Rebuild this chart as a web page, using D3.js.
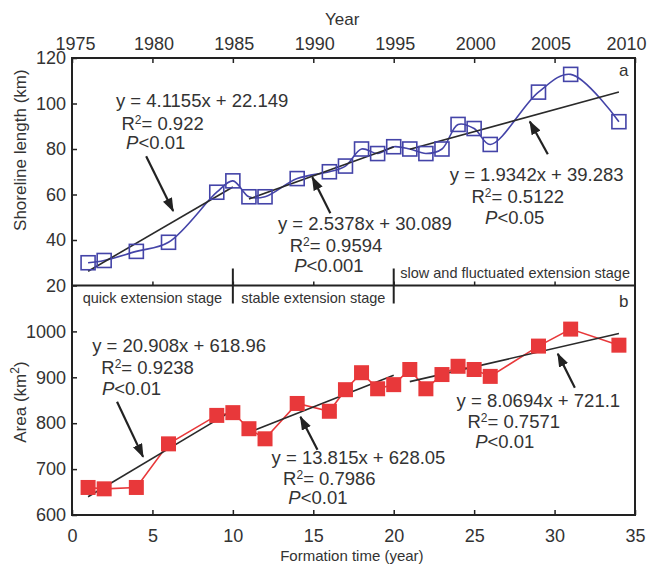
<!DOCTYPE html>
<html>
<head>
<meta charset="utf-8">
<script src="https://cdn.jsdelivr.net/npm/d3@7"></script>
<style>
  body { margin: 0; background: #fff; }
  svg { font-family: "Liberation Sans", Arial, sans-serif; }
</style>
</head>
<body>
<div id="chart"></div>
<script>
// formation time (years since 1975)
const time = [1, 2, 4, 6, 9, 10, 11, 12, 14, 16, 17, 18, 19, 20, 21, 22, 23, 24, 25, 26, 29, 31, 34];
const shoreline = [30, 31, 35, 39, 61, 66, 59, 59, 67, 70, 72.5, 80, 78, 81, 80, 78, 80, 90.8, 89, 82, 105, 112.8, 92];
const area = [660, 657, 660, 755, 817, 823, 788, 766, 843, 826, 873, 910, 875, 884, 917, 875, 906, 924, 917, 902, 968, 1005, 970];

// piecewise fits
const fitStart = [1, 11, 21];
const fitEnd = [10, 20, 34];
const shoreSlope = [4.1155, 2.5378, 1.9342];
const shoreIntercept = [22.149, 30.089, 39.283];
const shoreR2 = ["0.922", "0.9594", "0.5122"];
const shoreP = ["0.01", "0.001", "0.05"];
const areaSlope = [20.908, 13.815, 8.0694];
const areaIntercept = [618.96, 628.05, 721.1];
const areaR2 = ["0.9238", "0.7986", "0.7571"];
const areaP = ["0.01", "0.01", "0.01"];

const stageBreaks = [10, 20];
const stageNames = ["quick extension stage", "stable extension stage", "slow and fluctuated extension stage"];

const yearTicks = [1975, 1980, 1985, 1990, 1995, 2000, 2005, 2010];
const timeTicks = [0, 5, 10, 15, 20, 25, 30, 35];
const shoreTicks = [20, 40, 60, 80, 100, 120];
const areaTicks = [600, 700, 800, 900, 1000];

// annotation anchors (data units): [x of eq, y of eq, x of R2, y of R2, x of P, y of P]
const shoreLabelPos = [
  [8.09, 98.3, 5.63, 88.2, 5.2, 79.9],
  [18.21, 44.3, 16.41, 34.7, 15.97, 25.9],
  [28.89, 65.8, 27.71, 56.2, 27.52, 47.0]
];
const areaLabelPos = [
  [6.66, 956, 4.7, 907.9, 3.7, 862],
  [17.81, 711, 16.0, 665.5, 15.29, 624],
  [28.99, 836, 27.46, 790, 26.9, 746.3]
];
// arrows: [tail x, tail y, tip x, tip y]
const shoreArrows = [[4.61, 76.8, 6.29, 52.7], [16.06, 51.8, 14.94, 67.6], [29.58, 77.7, 28.46, 92.1]];
const areaArrows = [[2.8, 846.7, 4.42, 726.6], [15.26, 741.9, 14.2, 814], [31.26, 877.3, 30.2, 951.5]];

const width = 650, height = 569;
const mLeft = 72, mRight = 635, mTop = 58, mMid = 285.5, mBottom = 515;
const ink = "#333", blue = "#4444a8", red = "#e8383a";

const x = d3.scaleLinear().domain([0, 35]).range([mLeft, mRight]);
const xYear = d3.scaleLinear().domain([1975, 2010]).range([mLeft, mRight]);
const yTop = d3.scaleLinear().domain([20, 120]).range([mMid, mTop]);
const yBot = d3.scaleLinear().domain([600, 1100]).range([mBottom, mMid]);

const svg = d3.select("#chart").append("svg")
  .attr("width", width).attr("height", height)
  .attr("viewBox", [0, 0, width, height]);

svg.append("defs").append("marker")
  .attr("id", "arrow")
  .attr("markerUnits", "userSpaceOnUse")
  .attr("viewBox", "0 0 14 10")
  .attr("markerWidth", 14).attr("markerHeight", 10)
  .attr("refX", 13).attr("refY", 5)
  .attr("orient", "auto")
  .append("path").attr("d", "M0,0L14,5L0,10Z").attr("fill", "#222");

function styleAxis(g, fs) {
  g.select(".domain").remove();
  g.selectAll(".tick line").attr("stroke", "#222").attr("stroke-width", 1.5);
  g.selectAll(".tick text").attr("fill", ink).style("font-size", fs + "px");
}

// axes
svg.append("g").attr("transform", `translate(0,${mTop})`)
  .call(d3.axisTop(xYear).tickValues(yearTicks).tickFormat(d3.format("d")).tickSize(-5).tickPadding(8))
  .call(g => styleAxis(g, 18))
  .call(g => g.selectAll(".tick text").attr("dx", d => d === 1975 ? 3 : d >= 2005 ? (d === 2010 ? -9 : -4) : 1));
svg.append("g").attr("transform", `translate(0,${mBottom})`)
  .call(d3.axisBottom(x).tickValues(timeTicks).tickSize(-5).tickPadding(14))
  .call(g => styleAxis(g, 18));
svg.append("g").attr("transform", `translate(0,${mMid})`)
  .call(d3.axisBottom(x).tickValues(timeTicks.filter(d => d > 0 && d < 35)).tickSize(-4).tickFormat(""))
  .call(g => styleAxis(g, 18));
svg.append("g").attr("transform", `translate(${mLeft},0)`)
  .call(d3.axisLeft(yTop).tickValues(shoreTicks).tickSize(-5).tickPadding(6))
  .call(g => styleAxis(g, 18));
svg.append("g").attr("transform", `translate(${mLeft},0)`)
  .call(d3.axisLeft(yBot).tickValues(areaTicks).tickFormat(d3.format("d")).tickSize(-5).tickPadding(6))
  .call(g => styleAxis(g, 18));

// frame and divider
svg.append("rect")
  .attr("x", mLeft).attr("y", mTop).attr("width", mRight - mLeft).attr("height", mBottom - mTop)
  .attr("fill", "none").attr("stroke", "#222").attr("stroke-width", 2);
svg.append("line")
  .attr("x1", mLeft).attr("x2", mRight).attr("y1", mMid).attr("y2", mMid)
  .attr("stroke", "#222").attr("stroke-width", 2);

// stage separators
svg.selectAll(".stage").data(stageBreaks).join("line")
  .attr("x1", d => x(d)).attr("x2", d => x(d))
  .attr("y1", mMid - 17).attr("y2", mMid + 18)
  .attr("stroke", "#222").attr("stroke-width", 2);

svg.append("text").attr("x", x(5)).attr("y", mMid + 17)
  .attr("text-anchor", "middle").attr("fill", ink).style("font-size", "14.5px").text(stageNames[0]);
svg.append("text").attr("x", x(15)).attr("y", mMid + 17)
  .attr("text-anchor", "middle").attr("fill", ink).style("font-size", "14.5px").text(stageNames[1]);
svg.append("text").attr("x", mRight - 5).attr("y", mMid - 8)
  .attr("text-anchor", "end").attr("fill", ink).style("font-size", "14.5px").text(stageNames[2]);

// axis titles
svg.append("text").attr("x", x(16.8)).attr("y", 25)
  .attr("text-anchor", "middle").attr("fill", ink).style("font-size", "17px").text("Year");
svg.append("text").attr("x", x(17.4)).attr("y", 561)
  .attr("text-anchor", "middle").attr("fill", ink).style("font-size", "15px").text("Formation time (year)");
svg.append("text")
  .attr("transform", `translate(26,${yTop(79.5)}) rotate(-90)`)
  .attr("text-anchor", "middle").attr("fill", ink).style("font-size", "17px").text("Shoreline length (km)");
const areaTitle = svg.append("text")
  .attr("transform", `translate(26,${yBot(846)}) rotate(-90)`)
  .attr("text-anchor", "middle").attr("fill", ink).style("font-size", "17px");
areaTitle.append("tspan").text("Area (km");
areaTitle.append("tspan").attr("dy", -7).style("font-size", "12px").text("2");
areaTitle.append("tspan").attr("dy", 7).text(")");

// panel letters
svg.append("text").attr("x", x(34.3)).attr("y", mTop + 18)
  .attr("text-anchor", "middle").attr("fill", ink).style("font-size", "17px").text("a");
svg.append("text").attr("x", x(34.3)).attr("y", mMid + 21)
  .attr("text-anchor", "middle").attr("fill", ink).style("font-size", "17px").text("b");

// series
const shoreData = time.map((t, i) => [t, shoreline[i]]);
const areaData = time.map((t, i) => [t, area[i]]);

svg.append("path").datum(shoreData)
  .attr("fill", "none").attr("stroke", blue).attr("stroke-width", 1.6)
  .attr("d", d3.line().x(d => x(d[0])).y(d => yTop(d[1])).curve(d3.curveCatmullRom));

svg.append("path").datum(areaData)
  .attr("fill", "none").attr("stroke", red).attr("stroke-width", 1.6)
  .attr("d", d3.line().x(d => x(d[0])).y(d => yBot(d[1])));

// fit lines
function drawFits(slope, intercept, y) {
  svg.append("g").selectAll("line").data(slope).join("line")
    .attr("x1", (d, i) => x(fitStart[i])).attr("x2", (d, i) => x(fitEnd[i]))
    .attr("y1", (d, i) => y(d * fitStart[i] + intercept[i]))
    .attr("y2", (d, i) => y(d * fitEnd[i] + intercept[i]))
    .attr("stroke", "#2a2a2a").attr("stroke-width", 1.6);
}
drawFits(shoreSlope, shoreIntercept, yTop);
drawFits(areaSlope, areaIntercept, yBot);

// markers
const sq = 14;
svg.append("g").selectAll("rect").data(shoreData).join("rect")
  .attr("x", d => x(d[0]) - sq / 2).attr("y", d => yTop(d[1]) - sq / 2)
  .attr("width", sq).attr("height", sq)
  .attr("fill", "none").attr("stroke", blue).attr("stroke-width", 1.6);
svg.append("g").selectAll("rect").data(areaData).join("rect")
  .attr("x", d => x(d[0]) - 7.5).attr("y", d => yBot(d[1]) - 7.5)
  .attr("width", 15).attr("height", 15)
  .attr("fill", red);

// annotations
function annotate(pos, slope, intercept, r2, p, y, arrows) {
  pos.forEach((a, i) => {
    const g = svg.append("g").attr("fill", ink).style("font-size", "18.5px").attr("text-anchor", "middle");
    g.append("text").attr("x", x(a[0])).attr("y", y(a[1]))
      .text(`y = ${slope[i]}x + ${intercept[i]}`);
    const r = g.append("text").attr("x", x(a[2])).attr("y", y(a[3]));
    r.append("tspan").text("R");
    r.append("tspan").attr("dy", -6).style("font-size", "12px").text("2");
    r.append("tspan").attr("dy", 6).text("= " + r2[i]);
    const pt = g.append("text").attr("x", x(a[4])).attr("y", y(a[5]));
    pt.append("tspan").style("font-style", "italic").text("P");
    pt.append("tspan").text("<" + p[i]);
  });
  svg.append("g").selectAll("line").data(arrows).join("line")
    .attr("x1", d => x(d[0])).attr("y1", d => y(d[1]))
    .attr("x2", d => x(d[2])).attr("y2", d => y(d[3]))
    .attr("stroke", "#222").attr("stroke-width", 2.2)
    .attr("marker-end", "url(#arrow)");
}
annotate(shoreLabelPos, shoreSlope, shoreIntercept, shoreR2, shoreP, yTop, shoreArrows);
annotate(areaLabelPos, areaSlope, areaIntercept, areaR2, areaP, yBot, areaArrows);
</script>
</body>
</html>
